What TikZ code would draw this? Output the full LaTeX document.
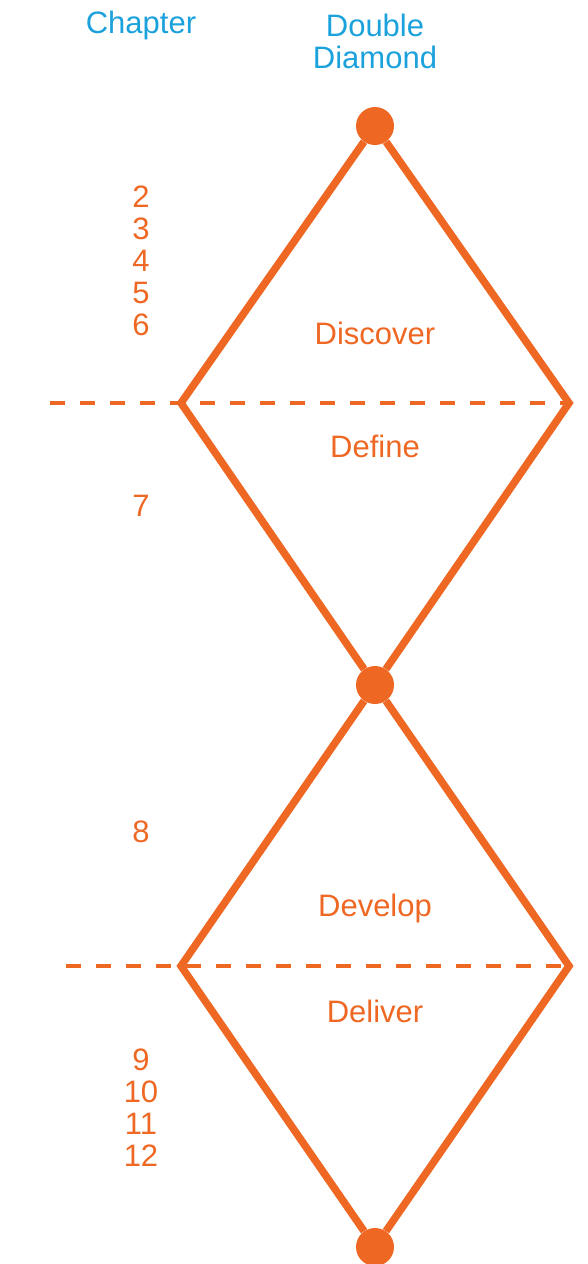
\documentclass[tikz,border=0pt]{standalone}
\usepackage{fontspec}
\setmainfont{Liberation Sans}
\definecolor{ddorange}{RGB}{238,104,36}
\definecolor{ddblue}{RGB}{27,161,219}
\begin{document}
\begin{tikzpicture}[x=1pt,y=-1pt,line join=miter]
  \tikzstyle{dot}=[circle,fill=ddorange,minimum size=38pt,inner sep=0pt]
  \tikzstyle{edge}=[draw=ddorange,line width=7.5pt]
  \tikzstyle{split}=[draw=ddorange,line width=4.5pt,dash pattern=on 15pt off 15pt]
  \tikzstyle{head}=[text=ddblue,font=\fontsize{31}{32}\selectfont,align=center]
  \tikzstyle{phase}=[text=ddorange,font=\fontsize{31}{32}\selectfont,align=center]
  \useasboundingbox (0,0) rectangle (587,1264);
  % headings
  \node[head] (H_1) at (141,25) {Chapter};
  \node[head] (H_2) at (375,41) {Double\\Diamond};
  % corners of the two diamonds
  \node[dot] (D_1) at (375,126)  {};
  \node[dot] (D_2) at (375,685)  {};
  \node[dot] (D_3) at (375,1247) {};
  \coordinate (L_1) at (181,403);
  \coordinate (R_1) at (569,403);
  \coordinate (L_2) at (181,966);
  \coordinate (R_2) at (569,966);
  \coordinate (S_1) at (50,403);
  \coordinate (S_2) at (66,966);
  % dashed phase splits
  \path[split] (S_1) -- (R_1);
  \path[split] (S_2) -- (R_2);
  % diamonds
  \path[edge] (D_1) -- (L_1) -- (D_2);
  \path[edge] (D_1) -- (R_1) -- (D_2);
  \path[edge] (D_2) -- (L_2) -- (D_3);
  \path[edge] (D_2) -- (R_2) -- (D_3);
  % phases
  \node[phase] (P_1) at (375,333)  {Discover};
  \node[phase] (P_2) at (375,446)  {Define};
  \node[phase] (P_3) at (375,908)  {Develop};
  \node[phase] (P_4) at (375,1011) {Deliver};
  % chapters
  \node[phase] (C_1) at (141,261)  {2\\3\\4\\5\\6};
  \node[phase] (C_2) at (141,506)  {7};
  \node[phase] (C_3) at (141,832)  {8};
  \node[phase] (C_4) at (141,1108) {9\\10\\11\\12};
\end{tikzpicture}
\end{document}
